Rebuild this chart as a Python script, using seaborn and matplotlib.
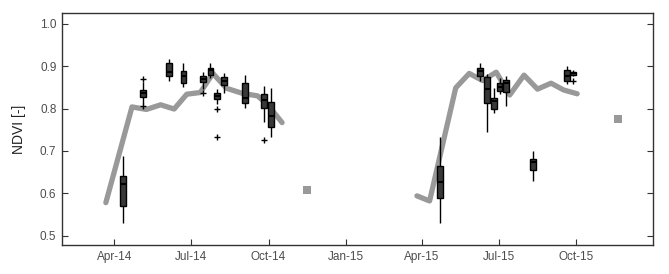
import pandas as pd
import numpy as np
import matplotlib
matplotlib.use('Agg')
import matplotlib.pyplot as plt
import matplotlib.dates as mdates
import seaborn as sns

# modelled NDVI (grey line), one segment per season
line14_dates = ['2014-03-22', '2014-04-22', '2014-05-09', '2014-05-26', '2014-06-11', '2014-06-26',
                '2014-07-12', '2014-07-27', '2014-08-12', '2014-08-31', '2014-09-18', '2014-09-30', '2014-10-17']
line14_ndvi = [0.578, 0.804, 0.798, 0.809, 0.799, 0.834, 0.838, 0.883, 0.848, 0.836, 0.830, 0.809, 0.767]
line15_dates = ['2015-03-26', '2015-04-10', '2015-05-11', '2015-05-27', '2015-06-12', '2015-06-28',
                '2015-07-14', '2015-07-31', '2015-08-16', '2015-09-01', '2015-09-16', '2015-10-02']
line15_ndvi = [0.594, 0.582, 0.849, 0.883, 0.866, 0.886, 0.832, 0.879, 0.846, 0.860, 0.844, 0.835]

# isolated grey squares
single_dates = ['2014-11-16', '2015-11-20']
single_ndvi = [0.608, 0.775]

# observed NDVI boxes: whisker low, q1, median, q3, whisker high
box_dates = ['2014-04-11', '2014-05-05', '2014-06-05', '2014-06-22', '2014-07-15', '2014-07-24',
             '2014-08-01', '2014-08-09', '2014-09-03', '2014-09-26', '2014-10-04',
             '2015-04-22', '2015-06-09', '2015-06-17', '2015-06-25', '2015-07-02', '2015-07-10',
             '2015-08-11', '2015-09-20', '2015-09-27']
box_stats = [
    [0.530, 0.570, 0.623, 0.641, 0.688],
    [0.811, 0.828, 0.836, 0.844, 0.863],
    [0.864, 0.876, 0.886, 0.908, 0.917],
    [0.850, 0.860, 0.876, 0.889, 0.908],
    [0.846, 0.862, 0.869, 0.877, 0.887],
    [0.872, 0.879, 0.890, 0.895, 0.908],
    [0.812, 0.822, 0.830, 0.837, 0.846],
    [0.838, 0.856, 0.865, 0.874, 0.885],
    [0.801, 0.813, 0.824, 0.860, 0.879],
    [0.768, 0.801, 0.820, 0.834, 0.853],
    [0.732, 0.757, 0.783, 0.815, 0.848],
    [0.529, 0.590, 0.627, 0.664, 0.734],
    [0.866, 0.877, 0.889, 0.895, 0.907],
    [0.745, 0.813, 0.847, 0.874, 0.882],
    [0.789, 0.800, 0.818, 0.826, 0.848],
    [0.834, 0.842, 0.852, 0.860, 0.873],
    [0.807, 0.839, 0.861, 0.867, 0.876],
    [0.630, 0.654, 0.674, 0.682, 0.700],
    [0.858, 0.865, 0.878, 0.891, 0.901],
    [0.877, 0.879, 0.883, 0.887, 0.890],
]
outlier_dates = ['2014-05-05', '2014-05-05', '2014-07-15', '2014-08-01', '2014-08-01', '2014-09-26', '2015-09-27']
outlier_ndvi = [0.869, 0.807, 0.836, 0.798, 0.732, 0.727, 0.864]


def num(dates):
    return mdates.date2num(pd.to_datetime(dates))


line_df = pd.DataFrame({
    'x': np.concatenate([num(line14_dates), num(line15_dates)]),
    'ndvi': line14_ndvi + line15_ndvi,
    'season': ['2014'] * len(line14_ndvi) + ['2015'] * len(line15_ndvi),
})
single_df = pd.DataFrame({'x': num(single_dates), 'ndvi': single_ndvi})
box_df = pd.DataFrame({
    'x': np.repeat(num(box_dates), 5),
    'ndvi': np.concatenate(box_stats),
})
out_df = pd.DataFrame({'x': num(outlier_dates), 'ndvi': outlier_ndvi})

sns.set_style('white')
plt.rcParams['font.family'] = ['Liberation Sans', 'DejaVu Sans']

fig = plt.figure(figsize=(6.69, 2.74), dpi=100)
ax = fig.add_axes([0.0927, 0.1058, 0.8834, 0.8457])

grey = '#999999'
sns.lineplot(data=line_df, x='x', y='ndvi', units='season', estimator=None,
             color=grey, linewidth=3.8, ax=ax, zorder=1)
sns.scatterplot(data=single_df, x='x', y='ndvi', marker='s', s=34, color=grey,
                edgecolor='none', ax=ax, zorder=1)

min_gap = np.min(np.diff(np.unique(num(box_dates))))
sns.boxplot(data=box_df, x='x', y='ndvi', native_scale=True, orient='x',
            whis=(0, 100), width=6.8 / min_gap, color='#383838', linecolor='black',
            saturation=1, linewidth=1.0, showcaps=False, fliersize=0, ax=ax,
            boxprops={'zorder': 3}, whiskerprops={'zorder': 2}, medianprops={'zorder': 4, 'linewidth': 1.5})
sns.scatterplot(data=out_df, x='x', y='ndvi', marker='+', s=14, color='black',
                linewidth=1.0, ax=ax, zorder=4)

ax.set_xlim(num(['2014-01-29'])[0], num(['2015-12-31'])[0])
ax.set_ylim(0.478, 1.025)
ax.set_yticks([0.5, 0.6, 0.7, 0.8, 0.9, 1.0])
ax.xaxis.set_major_locator(mdates.MonthLocator(bymonth=[1, 4, 7, 10]))
ax.xaxis.set_major_formatter(mdates.DateFormatter('%b-%y'))

ax.set_xlabel('')
ax.set_ylabel('NDVI [-]', fontsize=10, color='#222222', labelpad=10)
ax.yaxis.set_ticks_position('both')
ax.tick_params(direction='in', length=4, width=0.8, color='#333333', labelsize=8.5,
               labelcolor='#4d4d4d', pad=4)
ax.tick_params(axis='y', right=True, labelright=False, left=True, labelleft=True)
ax.tick_params(axis='x', top=False, bottom=True)
for s in ax.spines.values():
    s.set_color('#333333')
    s.set_linewidth(1.0)

fig.savefig('out.png', dpi=100)
